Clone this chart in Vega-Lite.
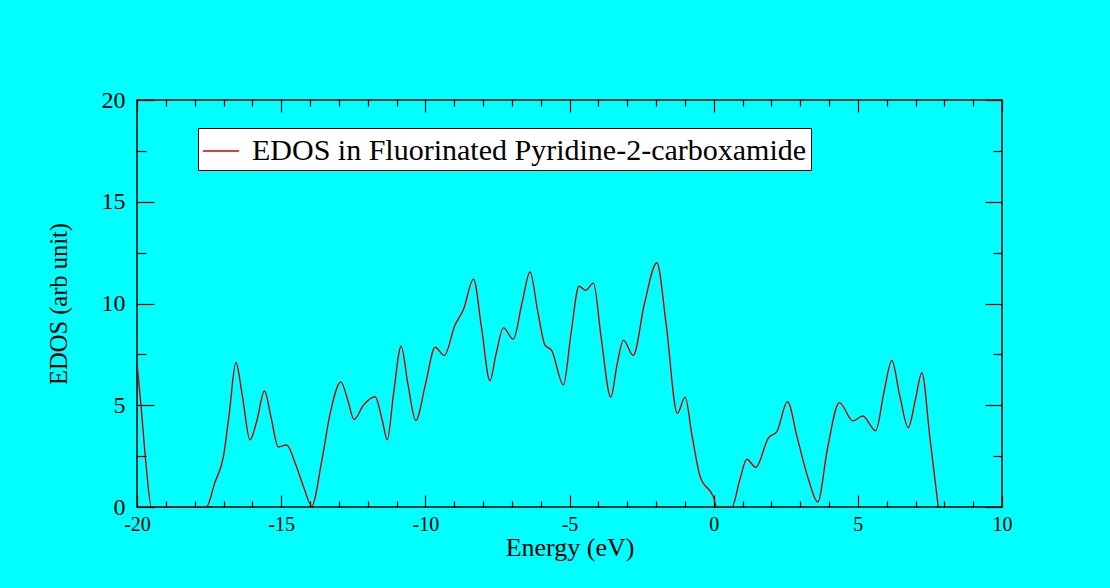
{
  "$schema": "https://vega.github.io/schema/vega-lite/v6.json",
  "width": 865,
  "height": 407,
  "autosize": {"type": "none"},
  "padding": {"left": 137, "top": 100, "right": 108, "bottom": 81},
  "background": "#00ffff",
  "config": {
    "view": {"stroke": "black", "strokeWidth": 1.5, "fill": null},
    "font": "Liberation Serif",
    "axis": {
      "grid": false,
      "domain": false,
      "tickColor": "black",
      "tickWidth": 1.2,
      "labelColor": "black",
      "titleColor": "black",
      "labelFont": "Liberation Serif",
      "titleFont": "Liberation Serif",
      "titleFontWeight": "normal",
      "labelOverlap": false,
      "labelFlush": false
    },
    "legend": {
      "orient": "none",
      "legendX": 61,
      "legendY": 28,
      "fillColor": "white",
      "strokeColor": "black",
      "padding": 4,
      "symbolType": "stroke",
      "symbolSize": 1300,
      "symbolStrokeWidth": 1.3,
      "labelFont": "Liberation Serif",
      "labelFontSize": 30,
      "labelColor": "black",
      "labelLimit": 0,
      "labelOffset": 12
    }
  },
  "data": {
    "values": [
      {"energy": -20, "edos": 7.1}, {"energy": -19.85, "edos": 4.8}, {"energy": -19.7, "edos": 2.3}, {"energy": -19.5, "edos": 0},
      {"energy": -17.6, "edos": 0}, {"energy": -17.3, "edos": 1.2}, {"energy": -17.0, "edos": 2.5}, {"energy": -16.8, "edos": 4.6},
      {"energy": -16.57, "edos": 7.1}, {"energy": -16.35, "edos": 5.5}, {"energy": -16.08, "edos": 3.3}, {"energy": -15.85, "edos": 4.2},
      {"energy": -15.58, "edos": 5.7}, {"energy": -15.35, "edos": 4.4}, {"energy": -15.1, "edos": 2.95}, {"energy": -14.81, "edos": 3.05},
      {"energy": -14.5, "edos": 2.1}, {"energy": -14.2, "edos": 0.9}, {"energy": -13.94, "edos": 0.05}, {"energy": -13.6, "edos": 2.2},
      {"energy": -13.3, "edos": 4.6}, {"energy": -12.93, "edos": 6.15}, {"energy": -12.7, "edos": 5.3}, {"energy": -12.47, "edos": 4.3},
      {"energy": -12.15, "edos": 5.0}, {"energy": -11.74, "edos": 5.42}, {"energy": -11.5, "edos": 4.3}, {"energy": -11.32, "edos": 3.3},
      {"energy": -11.1, "edos": 5.6}, {"energy": -10.84, "edos": 7.9}, {"energy": -10.6, "edos": 6.0}, {"energy": -10.33, "edos": 4.25},
      {"energy": -10.0, "edos": 6.0}, {"energy": -9.66, "edos": 7.85}, {"energy": -9.34, "edos": 7.45}, {"energy": -8.97, "edos": 8.95},
      {"energy": -8.68, "edos": 9.7}, {"energy": -8.33, "edos": 11.2}, {"energy": -8.05, "edos": 8.8}, {"energy": -7.76, "edos": 6.2},
      {"energy": -7.55, "edos": 7.5}, {"energy": -7.29, "edos": 8.8}, {"energy": -6.95, "edos": 8.25}, {"energy": -6.65, "edos": 10.0},
      {"energy": -6.37, "edos": 11.55}, {"energy": -6.1, "edos": 9.6}, {"energy": -5.85, "edos": 7.95}, {"energy": -5.62, "edos": 7.7},
      {"energy": -5.21, "edos": 6.0}, {"energy": -4.95, "edos": 8.5}, {"energy": -4.67, "edos": 10.85}, {"energy": -4.44, "edos": 10.65},
      {"energy": -4.17, "edos": 11.0}, {"energy": -3.9, "edos": 8.3}, {"energy": -3.57, "edos": 5.4}, {"energy": -3.35, "edos": 7.0},
      {"energy": -3.13, "edos": 8.2}, {"energy": -2.79, "edos": 7.45}, {"energy": -2.4, "edos": 10.0}, {"energy": -1.97, "edos": 12.0},
      {"energy": -1.65, "edos": 9.0}, {"energy": -1.26, "edos": 4.6}, {"energy": -0.99, "edos": 5.4}, {"energy": -0.75, "edos": 3.5},
      {"energy": -0.47, "edos": 1.5}, {"energy": -0.01, "edos": 0.5}, {"energy": 0.11, "edos": 0}, {"energy": 0.63, "edos": 0},
      {"energy": 0.9, "edos": 1.3}, {"energy": 1.15, "edos": 2.35}, {"energy": 1.46, "edos": 1.95}, {"energy": 1.9, "edos": 3.4},
      {"energy": 2.19, "edos": 3.7}, {"energy": 2.56, "edos": 5.18}, {"energy": 2.9, "edos": 3.4}, {"energy": 3.3, "edos": 1.3},
      {"energy": 3.61, "edos": 0.25}, {"energy": 3.95, "edos": 2.9}, {"energy": 4.36, "edos": 5.13}, {"energy": 4.83, "edos": 4.23},
      {"energy": 5.17, "edos": 4.47}, {"energy": 5.62, "edos": 3.75}, {"energy": 5.9, "edos": 5.6}, {"energy": 6.18, "edos": 7.2},
      {"energy": 6.45, "edos": 5.5}, {"energy": 6.75, "edos": 3.9}, {"energy": 7.0, "edos": 5.3}, {"energy": 7.22, "edos": 6.6},
      {"energy": 7.5, "edos": 3.4}, {"energy": 7.79, "edos": 0}
    ]
  },
  "layer": [
    {
      "mark": {"type": "line", "interpolate": "monotone", "strokeWidth": 1.4, "clip": true},
      "encoding": {
        "x": {
          "field": "energy", "type": "quantitative",
          "scale": {"domain": [-20, 10], "nice": false, "zero": false},
          "axis": {
            "orient": "bottom",
            "values": [-20,-19,-18,-17,-16,-15,-14,-13,-12,-11,-10,-9,-8,-7,-6,-5,-4,-3,-2,-1,0,1,2,3,4,5,6,7,8,9,10],
            "tickSize": {"condition": {"test": "datum.value % 5 === 0", "value": -12}, "value": -6},
            "labelExpr": "datum.value % 5 === 0 ? toString(datum.value) : ''",
            "labelFontSize": 20,
            "labelPadding": 19,
            "title": "Energy (eV)",
            "titleFontSize": 26,
            "titlePadding": -6
          }
        },
        "y": {
          "field": "edos", "type": "quantitative",
          "scale": {"domain": [0, 20], "nice": false},
          "axis": {
            "orient": "left",
            "values": [0, 2.5, 5, 7.5, 10, 12.5, 15, 17.5, 20],
            "tickSize": {"condition": {"test": "datum.value % 5 === 0", "value": -17}, "value": -9},
            "labelExpr": "datum.value % 5 === 0 ? toString(datum.value) : ''",
            "labelFontSize": 24,
            "labelPadding": 29,
            "title": "EDOS (arb unit)",
            "titleFontSize": 24.5,
            "titlePadding": 30
          }
        },
        "color": {
          "datum": "EDOS in Fluorinated Pyridine-2-carboxamide",
          "scale": {"range": ["#cc0000"]},
          "legend": {"title": null}
        }
      }
    },
    {
      "mark": {"type": "line", "interpolate": "monotone", "opacity": 0},
      "encoding": {
        "x": {
          "field": "energy", "type": "quantitative",
          "axis": {
            "orient": "top",
            "values": [-20,-19,-18,-17,-16,-15,-14,-13,-12,-11,-10,-9,-8,-7,-6,-5,-4,-3,-2,-1,0,1,2,3,4,5,6,7,8,9,10],
            "tickSize": {"condition": {"test": "datum.value % 5 === 0", "value": -12}, "value": -6},
            "labels": false,
            "title": null
          }
        },
        "y": {
          "field": "edos", "type": "quantitative",
          "axis": {
            "orient": "right",
            "values": [0, 2.5, 5, 7.5, 10, 12.5, 15, 17.5, 20],
            "tickSize": {"condition": {"test": "datum.value % 5 === 0", "value": -17}, "value": -9},
            "labels": false,
            "title": null
          }
        }
      }
    }
  ],
  "resolve": {"axis": {"x": "independent", "y": "independent"}}
}
